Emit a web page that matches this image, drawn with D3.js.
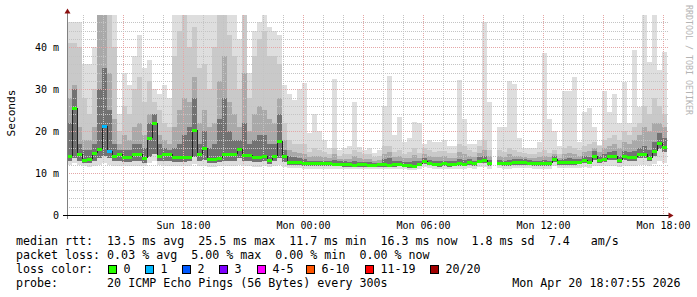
<!DOCTYPE html>
<html><head><meta charset="utf-8">
<script src="https://cdn.jsdelivr.net/npm/d3@7"></script>
<style>
body{margin:0;background:#fff}
svg{display:block}
text{font-family:"DejaVu Sans Mono",monospace}
</style>
</head><body>
<svg id="c" width="697" height="297"></svg>
<script>
// ---------- data (15-minute samples starting Sun Apr 19 2026 12:12) ----------
const startTime = Date.UTC(2026,3,19,12,12);
const stepMinutes = 15;
const medianRtt = [
14.2,25.5,14.6,13.1,13.3,14.7,15.8,21.3,15.4,14.1,
14.6,13.8,13.8,14.6,14.6,13.6,18.5,21.9,14.2,14.6,
14.6,13.9,13.9,13.9,13.9,20.3,14.6,16.0,13.3,13.3,
13.7,14.6,14.6,14.6,15.8,14.3,14.3,13.8,13.8,14.2,
13.1,14.2,17.7,14.0,12.7,12.7,12.6,12.4,12.3,12.3,
12.3,12.3,12.3,12.2,12.2,12.1,12.1,12.0,12.1,12.1,
12.0,12.0,12.1,12.1,12.0,12.1,12.2,12.0,11.9,11.7,
12.2,12.9,12.5,12.2,12.1,12.4,12.1,12.2,12.4,12.2,
12.7,12.3,13.0,13.1,12.3,null,12.5,12.3,12.3,12.6,
12.6,12.6,12.5,12.3,12.3,12.3,12.3,13.3,12.6,12.6,
12.6,12.6,12.7,13.1,12.7,14.0,13.2,13.4,14.0,14.0,
13.1,14.0,13.8,13.8,14.5,14.5,13.6,15.2,17.1,16.3];
const lossCount = [
0,0,0,0,0,0,0,1,1,0, 0,0,0,0,0,0,0,0,0,0, 0,0,0,0,0,0,0,0,0,0,
0,0,0,0,0,0,0,0,0,0, 0,0,0,0,0,0,0,0,0,0, 0,0,0,0,0,0,0,0,0,0,
0,0,0,0,0,0,0,0,0,0, 0,0,0,0,0,0,0,0,0,0, 0,0,0,0,0,0,0,0,0,0,
0,0,0,0,0,0,0,0,0,0, 0,0,0,0,0,0,0,0,0,0, 0,0,0,0,0,0,0,0,0,0];
const smokeMax = [
46,46,46,36,36,40,47.8,47.8,47.8,47.8,
24,34,31,38,43,35,37,30,29,31,
28,47.8,47.8,47.8,47.8,47.8,47.8,47.8,47.8,47.8,
47.8,47.8,47.8,47.8,42,47.8,34,44,46,47.8,
45,44,43,31,29,27.5,30,31.5,19.5,24,
20,18,16,32.5,15.5,16,16.5,27,16.3,15.5,
16,14.8,15.5,26,33.2,19,23.5,17.5,18.5,22.3,
22,17,18,17.5,17.5,18,16.5,16.5,32.2,23,
17,17,18,46,27,null,21,21,32,31.4,
18.3,16,16,16,17.5,38.6,23,20,16.5,29.5,
29.5,33,17.5,24.7,25.5,21,16.7,29.5,24.7,29,
21.9,31.8,21.9,39.4,25.9,47.8,36.6,47.8,34.6,39];
const smokeUp3 = [
41,41,40,28,24,30,47.8,47.8,47.8,40,
20,26,24,30,33,27,32,27,25,22,
21,38,44,47.8,40,45,35,36,30,40,
47.8,47.8,43,38,30,47.8,28,38,42,44,
38,38,36,22,18,17,17,17,15,16,
15.5,15,14.5,16,14.2,14.5,14.5,15.5,15,14.5,
14.5,13.8,14.0,16.5,16.5,15,15.5,14.5,15,16,
14.8,16,15.5,15,15.2,15.2,14.8,14.8,17,16.5,
15.5,15,16.5,18,15.5,null,15.5,15,16,15.5,
15,14.8,14.5,14.5,15,15.5,14.8,15.5,14.5,16,
16.5,16,15.5,16.5,17,17.5,16.5,18,18.5,19,
18,20,19,21,22,26,24,28,26,24];
const smokeUp2 = [
28,31,21,18,18,21,47.8,47.8,34,23,
17,19,18,21,22,19,24,24,19,18,
17,21,25,28,27,33,22,25,21,22,
32,38,27,24,21,34,20,24,26,25,
23,22,28,18,15.5,15,14.8,14.5,13.8,14.2,
14.0,13.8,13.5,14.5,13.3,13.4,13.3,14.0,13.5,13.3,
13.3,13.0,13.1,14.5,15.0,13.8,14.2,13.5,13.6,14.4,
13.6,14.6,14.2,13.8,13.9,14.0,13.6,13.6,15.0,14.6,
14.2,13.8,14.8,15.5,14.0,null,14.2,13.8,14.5,14.2,
14.0,13.8,13.6,13.5,13.8,14.2,13.8,14.5,13.6,14.5,
14.8,14.5,14.2,15.0,15.2,16.0,15.0,16.0,16.5,17.0,
16.0,17.5,17.0,18.0,19.0,21.0,20.0,22.0,22.0,21.0];
const smokeUp1 = [
22,30,17,15.5,15.5,17,30,35,25,17,
15.5,15.5,15.5,17,17,16,22,24,17,16,
15.5,16,17,19,21,28,17,20,16,17,
23,28,20,18,18,22,17,18,19,19,
17,17,24,15.5,14.0,13.8,13.5,13.3,13.0,13.0,
13.0,12.9,12.9,13.2,12.8,12.8,12.7,12.9,12.7,12.6,
12.6,12.5,12.5,13.3,13.6,12.9,13.0,12.7,12.7,13.0,
12.8,13.6,13.2,12.9,13.0,13.0,12.9,12.9,13.4,13.2,
13.4,13.0,13.8,14.0,13.1,null,13.2,13.0,13.2,13.4,
13.3,13.3,13.1,13.0,13.0,13.2,13.0,14.0,13.1,13.4,
13.5,13.4,13.4,14.0,13.8,15.2,14.0,14.5,15.0,15.2,
14.2,15.2,15.0,15.2,16.0,16.5,15.5,17.5,19.5,18.5];
const smokeLow = [
12.9,13.5,13.0,12.3,12.3,13.0,13.5,14.0,13.5,12.9,
13.0,12.6,12.6,13.0,13.0,12.5,13.8,14.5,13.0,13.0,
13.0,12.7,12.7,12.7,12.8,13.8,13.0,13.2,12.4,12.4,
12.6,13.0,13.0,13.0,13.5,12.9,12.9,12.6,12.6,12.8,
12.2,12.8,13.6,12.6,12.0,12.0,11.9,11.8,11.7,11.7,
11.7,11.7,11.7,11.6,11.6,11.5,11.5,11.4,11.5,11.5,
11.4,11.4,11.5,11.5,11.4,11.5,11.6,11.4,11.3,11.2,
11.6,12.2,11.9,11.6,11.5,11.8,11.5,11.6,11.8,11.6,
12.0,11.7,12.3,12.4,11.7,null,11.9,11.7,11.7,12.0,
12.0,12.0,11.9,11.7,11.7,11.7,11.7,12.6,12.0,12.0,
12.0,12.0,12.1,12.4,12.1,13.2,12.5,12.7,13.2,13.2,
12.4,13.2,13.0,13.0,13.6,13.6,12.9,14.2,15.8,15.0];
const smokeMin = [
12.0,12.5,12.0,11.6,11.5,11.8,12.0,12.3,12.0,11.8,
11.8,11.6,11.6,11.8,11.8,11.6,12.5,13.0,12.0,11.8,
11.7,11.6,11.6,11.6,11.8,12.2,11.7,11.8,11.5,11.5,
11.6,11.8,11.8,11.8,12.0,11.8,11.7,11.5,11.5,11.6,
11.4,11.6,12.0,11.5,11.3,11.2,11.2,11.1,11.1,11.1,
11.1,11.1,11.1,11.0,11.0,11.0,10.9,10.9,11.0,11.0,
10.9,10.9,11.0,11.0,10.9,11.0,11.0,10.9,10.8,10.8,
11.0,11.4,11.2,11.0,11.0,11.1,11.0,11.0,11.1,11.0,
11.2,11.0,11.4,11.5,11.0,null,11.2,11.1,11.1,11.3,
11.3,11.3,11.2,11.1,11.1,11.1,11.1,11.6,11.3,11.3,
11.3,11.3,11.3,11.5,11.3,11.8,11.6,11.6,11.8,11.8,
11.5,11.8,11.8,11.8,12.0,12.0,11.7,12.2,12.8,12.5];

const xTickLabels = ["Sun 18:00","Mon 00:00","Mon 06:00","Mon 12:00","Mon 18:00"];
const xTickDates = [Date.UTC(2026,3,19,18),Date.UTC(2026,3,20,0),Date.UTC(2026,3,20,6),Date.UTC(2026,3,20,12),Date.UTC(2026,3,20,18)];
const yTickValues = [0,10,20,30,40];
const yTickLabels = ["0","10 m","20 m","30 m","40 m"];
const lossLabels = ["0","1","2","3","4-5","6-10","11-19","20/20"];
const lossColors = ["#26ff00","#00b8ff","#0059ff","#7e00ff","#ff00ff","#ff5500","#ff0000","#a10000"];
const legendLines = [
 "median rtt:  13.5 ms avg  25.5 ms max  11.7 ms min  16.3 ms now  1.8 ms sd  7.4   am/s",
 "packet loss: 0.03 % avg  5.00 % max  0.00 % min  0.00 % now",
 "loss color:",
 "probe:       20 ICMP Echo Pings (56 Bytes) every 300s"];
const stampText = "Mon Apr 20 18:07:55 2026";
const yTitle = "Seconds";
const watermark = "RRDTOOL / TOBI OETIKER";

// ---------- drawing ----------
const svg = d3.select("#c");
const N = medianRtt.length;
const stepMs = stepMinutes*60000;
const tAt = i => new Date(startTime + i*stepMs);
const x = d3.scaleUtc().domain([new Date(Date.UTC(2026,3,19,12,12)), new Date(Date.UTC(2026,3,20,18,12))]).range([67,667]);
const y = d3.scaleLinear().domain([0,47.76]).range([215,15]);

svg.append("defs").append("clipPath").attr("id","plot").append("rect")
  .attr("x",67).attr("y",15).attr("width",601).attr("height",200);

const plot = svg.append("g").attr("clip-path","url(#plot)");
const bands = [
  {lo:smokeMin, hi:smokeMax, color:"#dedede"},
  {lo:smokeLow, hi:smokeUp3, color:"#c9c9c9"},
  {lo:smokeLow, hi:smokeUp2, color:"#a9a9a9"},
  {lo:smokeLow, hi:smokeUp1, color:"#727272"}
];
bands.forEach(b=>{
  plot.append("g").selectAll("rect")
    .data(d3.range(N).filter(i=>b.hi[i]!=null))
    .join("rect")
    .attr("x",i=>x(tAt(i))).attr("width",i=>x(tAt(i+1))-x(tAt(i)))
    .attr("y",i=>y(b.hi[i])).attr("height",i=>y(b.lo[i])-y(b.hi[i]))
    .attr("fill",b.color).attr("shape-rendering","crispEdges");
});

// grid
const grid = svg.append("g");
const hours = d3.utcHour.range(x.domain()[0], x.domain()[1]);
grid.selectAll("line.v").data(hours).join("line")
  .attr("x1",d=>Math.round(x(d))+0.5).attr("x2",d=>Math.round(x(d))+0.5)
  .attr("y1",15).attr("y2",215)
  .attr("stroke",d=>d.getUTCHours()%3===0?"#e4a6a6":"#c4c4c4")
  .attr("stroke-dasharray","1,1");
const yGrid = d3.range(2,48,2);
grid.selectAll("line.h").data(yGrid).join("line")
  .attr("x1",67).attr("x2",669)
  .attr("y1",d=>Math.round(y(d))+0.5).attr("y2",d=>Math.round(y(d))+0.5)
  .attr("stroke",d=>d%10===0?"#e4a6a6":"#c4c4c4")
  .attr("stroke-dasharray","1,1");

// median line
const med = svg.append("g");
const conn = d3.range(N-1).filter(i=>medianRtt[i]!=null && medianRtt[i+1]!=null);
med.selectAll("line").data(conn).join("line")
  .attr("x1",i=>x(tAt(i+1))).attr("x2",i=>x(tAt(i+1)))
  .attr("y1",i=>y(medianRtt[i])).attr("y2",i=>y(medianRtt[i+1]))
  .attr("stroke","#222").attr("stroke-width",1).attr("shape-rendering","crispEdges");
med.selectAll("rect").data(d3.range(N).filter(i=>medianRtt[i]!=null)).join("rect")
  .attr("x",i=>x(tAt(i))).attr("width",i=>x(tAt(i+1))-x(tAt(i)))
  .attr("y",i=>Math.round(y(medianRtt[i]))-1.5).attr("height",3)
  .attr("fill",i=>lossColors[lossCount[i]]).attr("shape-rendering","crispEdges");

// axes lines + arrows
svg.append("line").attr("x1",67.5).attr("x2",67.5).attr("y1",219).attr("y2",13).attr("stroke","#808080");
svg.append("line").attr("x1",63).attr("x2",669).attr("y1",215.5).attr("y2",215.5).attr("stroke","#000");
svg.append("path").attr("d","M64.5,13.5 L67.5,8.5 L70.5,13.5 Z").attr("fill","#8b1010");
svg.append("path").attr("d","M668.5,212.5 L673.5,215.5 L668.5,218.5 Z").attr("fill","#8b1010");

// axes text via d3 axes
const xa = svg.append("g").attr("transform","translate(0,215)")
  .call(d3.axisBottom(x).tickValues(xTickDates.map(d=>new Date(d))).tickFormat((d,i)=>xTickLabels[i]).tickSize(0).tickPadding(6.5));
xa.select(".domain").remove();
xa.selectAll("text").attr("font-family","DejaVu Sans Mono").attr("font-size",10).attr("fill","#000");
const ya = svg.append("g").attr("transform","translate(67,0)")
  .call(d3.axisLeft(y).tickValues(yTickValues).tickFormat((d,i)=>yTickLabels[i]).tickSize(0).tickPadding(8));
ya.select(".domain").remove();
ya.selectAll("text").attr("font-family","DejaVu Sans Mono").attr("font-size",10).attr("fill","#000");

svg.append("text").attr("transform","translate(11,113) rotate(-90)")
  .attr("text-anchor","middle").attr("dominant-baseline","central")
  .attr("font-size",11.2).attr("fill","#000").text(yTitle);

svg.append("text").attr("transform","translate(686,5) rotate(90)")
  .attr("font-size",8.3).attr("fill","#b4b4b4").text(watermark);

// legend
const lg = svg.append("g").attr("font-size",11.65).attr("fill","#000");
legendLines.forEach((t,i)=>{
  lg.append("text").attr("x",16).attr("y",245+14*i).attr("xml:space","preserve").style("white-space","pre").text(t);
});
const sqX = [108.5,145.5,182.5,219.5,257.5,306.5,365.5,430.5];
lossLabels.forEach((l,i)=>{
  lg.append("rect").attr("x",sqX[i]).attr("y",265.5).attr("width",8).attr("height",8)
    .attr("fill",lossColors[i]).attr("stroke","#000").attr("stroke-width",1);
  lg.append("text").attr("x",sqX[i]+15).attr("y",273).text(l);
});
lg.append("text").attr("x",680.5).attr("y",287).attr("text-anchor","end").text(stampText);
</script>
</body></html>
